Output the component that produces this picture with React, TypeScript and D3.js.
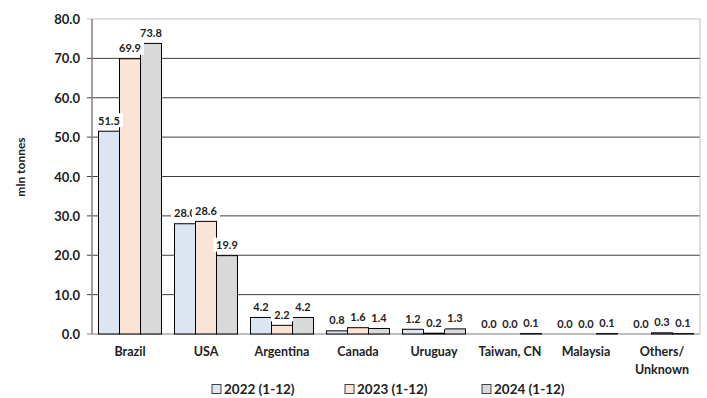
import * as d3 from "d3";

const categories = ["Brazil", "USA", "Argentina", "Canada", "Uruguay", "Taiwan, CN", "Malaysia", "Others/\nUnknown"];
const seriesNames = ["2022 (1-12)", "2023 (1-12)", "2024 (1-12)"];
const values2022 = [51.5, 28.0, 4.2, 0.8, 1.2, 0.0, 0.0, 0.0];
const values2023 = [69.9, 28.6, 2.2, 1.6, 0.2, 0.0, 0.0, 0.3];
const values2024 = [73.8, 19.9, 4.2, 1.4, 1.3, 0.1, 0.1, 0.1];
const yTicks = [0, 10, 20, 30, 40, 50, 60, 70, 80];
const colors = ["#dce6f2", "#fbe3d6", "#d9d9d9"];

const WIDTH = 707;
const HEIGHT = 398;
const MARGIN = { top: 19, right: 7, bottom: 64, left: 92 };
const FONT = "Lato, 'Noto Sans', sans-serif";

const App = () => {
  const boundsWidth = WIDTH - MARGIN.left - MARGIN.right;
  const boundsHeight = HEIGHT - MARGIN.top - MARGIN.bottom;
  const allSeries = [values2022, values2023, values2024];

  const yScale = d3.scaleLinear().domain([0, 80]).range([boundsHeight, 0]);
  const xScale = d3.scaleBand<string>().domain(categories).range([0, boundsWidth]).padding(0);
  const subScale = d3
    .scaleBand<string>()
    .domain(seriesNames)
    .range([0, xScale.bandwidth()])
    .paddingInner(0)
    .paddingOuter(0.31);

  // gridlines + y tick labels
  const grid = yTicks.map((t) => (
    <g key={t}>
      <line
        x1={-5}
        x2={boundsWidth}
        y1={yScale(t)}
        y2={yScale(t)}
        stroke={t === 80 ? "#bfbfbf" : t === 0 ? "#7f7f7f" : "#404040"}
        strokeWidth={1}
      />
      <text
        x={-12}
        y={yScale(t)}
        textAnchor="end"
        dominantBaseline="central"
        fontSize={13}
        fontWeight="bold"
        fill="#222"
      >
        {t.toFixed(1)}
      </text>
    </g>
  ));

  const bars = allSeries.map((vals, si) =>
    vals.map((v, ci) => {
      const x = (xScale(categories[ci]) ?? 0) + (subScale(seriesNames[si]) ?? 0);
      const y = yScale(v);
      return (
        <rect
          key={`${si}-${ci}`}
          x={x}
          y={y}
          width={subScale.bandwidth()}
          height={boundsHeight - y}
          fill={colors[si]}
          stroke="#000"
          strokeWidth={1}
        />
      );
    })
  );

  // value labels with white boxes, later series drawn on top
  const labels = allSeries.map((vals, si) =>
    vals.map((v, ci) => {
      const cx = (xScale(categories[ci]) ?? 0) + (subScale(seriesNames[si]) ?? 0) + subScale.bandwidth() / 2;
      const cy = yScale(v) - 11;
      const txt = v.toFixed(1);
      const w = txt.length * 6 + 4;
      return (
        <g key={`l-${si}-${ci}`}>
          <rect x={cx - w / 2} y={cy - 7} width={w} height={14} fill="#fff" />
          <text
            x={cx}
            y={cy}
            textAnchor="middle"
            dominantBaseline="central"
            fontSize={11}
            fontWeight="bold"
            fill="#222"
          >
            {txt}
          </text>
        </g>
      );
    })
  );

  const xLabels = categories.map((c) => {
    const lines = c.split("\n");
    const cx = (xScale(c) ?? 0) + xScale.bandwidth() / 2;
    return (
      <text
        key={c}
        x={cx}
        y={boundsHeight + 17}
        textAnchor="middle"
        dominantBaseline="central"
        fontSize={12.5}
        fontWeight="bold"
        fill="#222"
      >
        {lines.map((l, i) => (
          <tspan key={i} x={cx} dy={i === 0 ? 0 : 18}>
            {l}
          </tspan>
        ))}
      </text>
    );
  });

  const legendX = [212, 345, 482];
  const legend = seriesNames.map((s, i) => (
    <g key={s} transform={`translate(${legendX[i]},${389})`}>
      <rect x={0} y={-4.5} width={9} height={9} fill={colors[i]} stroke="#404040" strokeWidth={1} />
      <text x={12} y={0} dominantBaseline="central" fontSize={13.5} fontWeight="bold" fill="#222">
        {s}
      </text>
    </g>
  ));

  return (
    <svg
      width={WIDTH}
      height={HEIGHT}
      style={{ position: "absolute", left: 0, top: 0, fontFamily: FONT, background: "#fff" }}
    >
      <g transform={`translate(${MARGIN.left},${MARGIN.top})`}>
        {grid}
        <line x1={boundsWidth} x2={boundsWidth} y1={0} y2={boundsHeight} stroke="#bfbfbf" />
        <line x1={0} x2={0} y1={0} y2={boundsHeight} stroke="#7f7f7f" strokeWidth={1.5} />
        <g>{bars}</g>
        <g>{labels}</g>
        {xLabels}
        <text
          transform={`translate(${20 - MARGIN.left},${167 - MARGIN.top}) rotate(-90)`}
          textAnchor="middle"
          dominantBaseline="central"
          fontSize={12}
          fontWeight="bold"
          fill="#222"
        >
          mln tonnes
        </text>
      </g>
      {legend}
    </svg>
  );
};

export default App;
